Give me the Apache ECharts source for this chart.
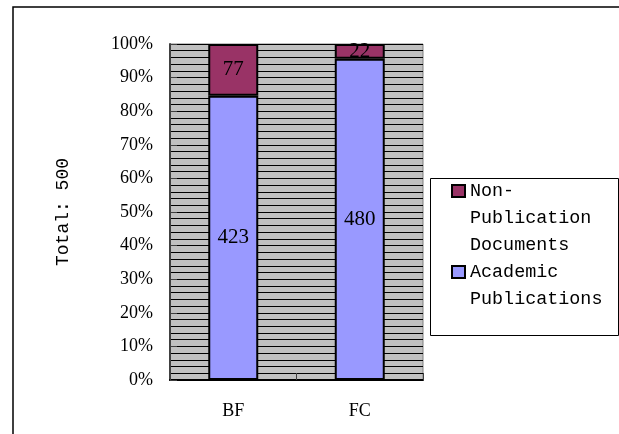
<!DOCTYPE html>
<html>
<head>
<meta charset="utf-8">
<script src="https://cdn.jsdelivr.net/npm/echarts@6/dist/echarts.min.js"></script>
<style>
  html, body { margin: 0; padding: 0; background: #ffffff; }
  #chart { width: 619px; height: 434px; }
</style>
</head>
<body>
<div id="chart"></div>
<script>
// Document counts per source, drawn as 100% stacked columns
const categories = ['BF', 'FC'];
const academicPublications = [423, 480];
const nonPublicationDocuments = [77, 22];
const seriesNames = ['Academic Publications', 'Non-Publication Documents'];
const axisTitle = 'Total: 500';

// share of each column, in percent
const totals = categories.map((_, i) => academicPublications[i] + nonPublicationDocuments[i]);
const academicPct = academicPublications.map((v, i) => v / totals[i] * 100);
const nonPubPct = nonPublicationDocuments.map((v, i) => v / totals[i] * 100);

const serif = 'Liberation Serif';
const mono = 'Liberation Mono';

// legend entries wrap over several lines; the leading blank lines keep
// each swatch level with the first line of its entry
const legendText = {};
legendText[seriesNames[1]] = '\n\nNon-\nPublication\nDocuments';
legendText[seriesNames[0]] = '\nAcademic\nPublications';

const chart = echarts.init(document.getElementById('chart'), null, { renderer: 'canvas' });

chart.setOption({
  backgroundColor: '#ffffff',
  animation: false,
  graphic: [
    {
      type: 'rect',
      silent: true,
      z: -10,
      shape: { x: 13, y: 7, width: 700, height: 500 },
      style: { fill: 'none', stroke: '#000000', lineWidth: 1.5 }
    },
    {
      type: 'rect',
      silent: true,
      z: 0,
      shape: { x: 430.5, y: 178.5, width: 188, height: 157 },
      style: { fill: '#ffffff', stroke: '#000000', lineWidth: 1 }
    }
  ],
  grid: {
    left: 170, top: 44, width: 253, height: 336,
    show: true,
    backgroundColor: '#C0C0C0',
    borderColor: '#808080',
    borderWidth: 1
  },
  legend: {
    orient: 'vertical',
    left: 451,
    top: 123.5,
    padding: 0,
    itemGap: -27,
    itemWidth: 13,
    itemHeight: 12,
    icon: 'rect',
    selectedMode: false,
    textStyle: {
      fontFamily: mono, fontSize: 18.4, color: '#000000',
      lineHeight: 27
    },
    itemStyle: { borderColor: '#000000', borderWidth: 2 },
    data: [seriesNames[1], seriesNames[0]],
    formatter: name => legendText[name]
  },
  xAxis: {
    type: 'category',
    data: categories,
    axisLine: { show: true, lineStyle: { color: '#000000', width: 2 } },
    axisTick: { show: true, inside: true, length: 7, lineStyle: { color: '#404040', width: 1 } },
    axisLabel: { margin: 22, fontFamily: serif, fontSize: 18, color: '#000000' },
    splitLine: { show: false }
  },
  yAxis: {
    type: 'value',
    min: 0,
    max: 100,
    interval: 10,
    name: axisTitle,
    nameLocation: 'middle',
    nameRotate: 90,
    nameGap: 98,
    nameTextStyle: { fontFamily: mono, fontSize: 18, color: '#000000' },
    axisLine: { show: true, lineStyle: { color: '#404040', width: 2 } },
    axisTick: { show: true, inside: true, length: 7, lineStyle: { color: '#404040', width: 1 } },
    axisLabel: { margin: 17, fontFamily: serif, fontSize: 18, color: '#000000', formatter: '{value}%' },
    splitLine: { show: true, lineStyle: { color: '#000000', width: 1 } },
    minorTick: { show: false, splitNumber: 5 },
    minorSplitLine: { show: true, lineStyle: { color: '#000000', width: 1 } }
  },
  series: [
    {
      name: seriesNames[0],
      type: 'bar',
      stack: 'share',
      barWidth: 50,
      data: academicPct,
      itemStyle: { color: '#9999FF', borderColor: '#000000', borderWidth: 2 },
      label: {
        show: true, position: 'inside',
        fontFamily: serif, fontSize: 21, color: '#000000',
        formatter: p => String(academicPublications[p.dataIndex])
      }
    },
    {
      name: seriesNames[1],
      type: 'bar',
      stack: 'share',
      barWidth: 50,
      data: nonPubPct,
      itemStyle: { color: '#993366', borderColor: '#000000', borderWidth: 2 },
      label: {
        show: true, position: 'inside',
        fontFamily: serif, fontSize: 21, color: '#000000',
        formatter: p => String(nonPublicationDocuments[p.dataIndex])
      }
    }
  ]
});
</script>
</body>
</html>
